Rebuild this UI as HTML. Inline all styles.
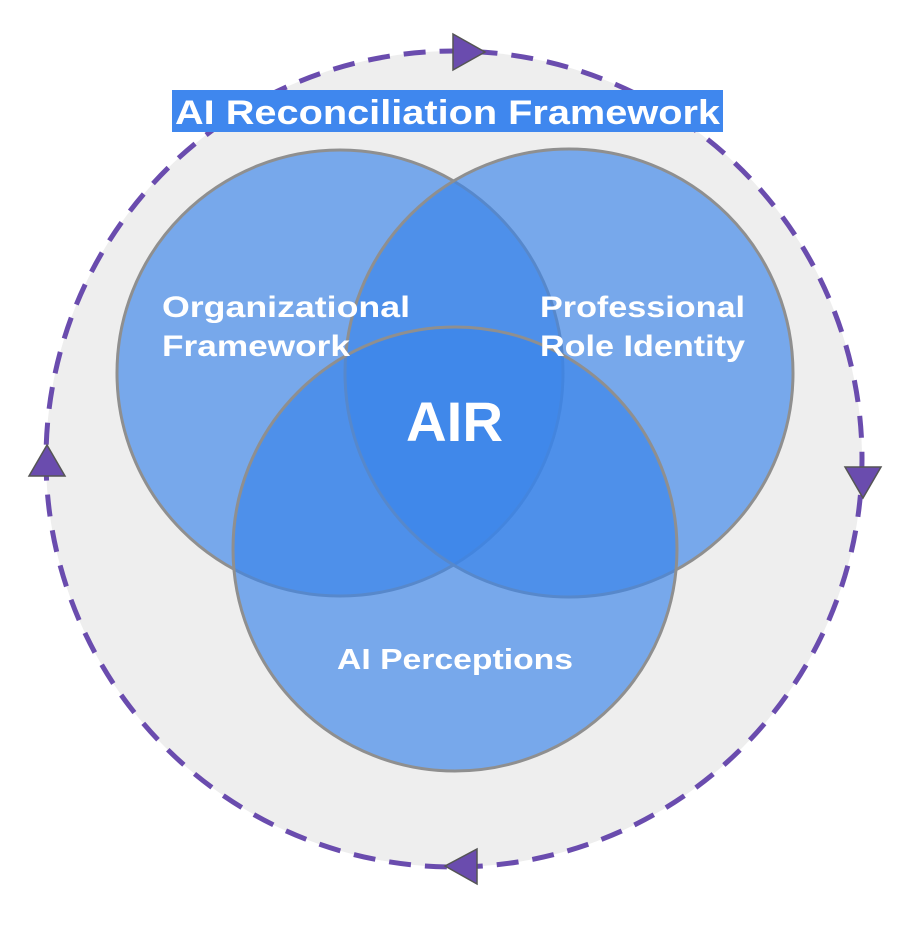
<!DOCTYPE html>
<html><head><style>
html,body{margin:0;padding:0;background:#fff;width:907px;height:928px;overflow:hidden}
svg{display:block}
text{font-family:"Liberation Sans",sans-serif;font-weight:bold;fill:#fff}
</style></head><body>
<svg width="907" height="928" viewBox="0 0 907 928">
<circle cx="454" cy="459" r="408" fill="#eeeeee" stroke="#6a4cae" stroke-width="5" stroke-dasharray="22 14"/>
<g fill="#3a84ea" fill-opacity="0.66" stroke="#8f8f8f" stroke-width="3">
<circle cx="340" cy="373" r="223"/>
<circle cx="569" cy="373" r="224"/>
<circle cx="455" cy="549" r="222"/>
</g>
<g fill="#6a4cae" stroke="#555" stroke-width="1.5">
<polygon points="453,34 453,70 485,52"/>
<polygon points="845,467 881,467 863,498"/>
<polygon points="29,476 65,476 47,445"/>
<polygon points="477,849 477,884 445,866"/>
</g>
<rect x="172" y="90" width="551" height="42" fill="#3f87ee"/>
<text x="175" y="124" font-size="34" textLength="545" lengthAdjust="spacingAndGlyphs">AI Reconciliation Framework</text>
<text x="162" y="317" font-size="30" textLength="248" lengthAdjust="spacingAndGlyphs">Organizational</text>
<text x="162" y="356" font-size="30" textLength="188" lengthAdjust="spacingAndGlyphs">Framework</text>
<text x="540" y="317" font-size="30" textLength="205" lengthAdjust="spacingAndGlyphs">Professional</text>
<text x="540" y="356" font-size="30" textLength="205" lengthAdjust="spacingAndGlyphs">Role Identity</text>
<text x="406" y="441" font-size="56" textLength="97" lengthAdjust="spacingAndGlyphs">AIR</text>
<text x="337" y="669" font-size="29" textLength="236" lengthAdjust="spacingAndGlyphs">AI Perceptions</text>
</svg>
</body></html>
